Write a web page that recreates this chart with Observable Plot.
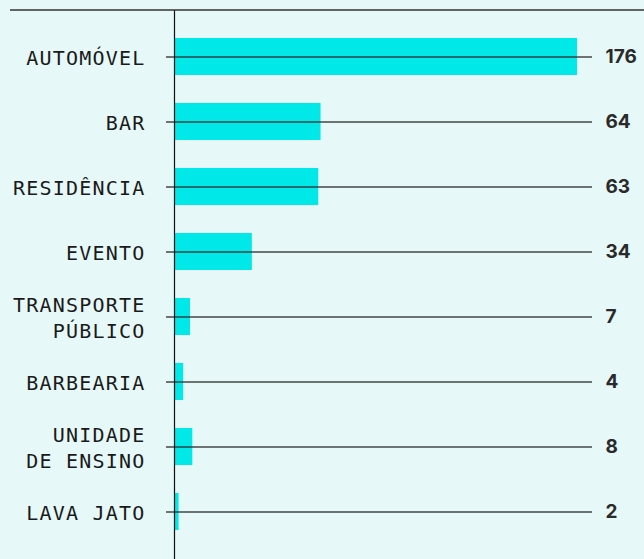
<!DOCTYPE html>
<html>
<head>
<meta charset="utf-8">
<script src="https://cdn.jsdelivr.net/npm/d3@7"></script>
<script src="https://cdn.jsdelivr.net/npm/@observablehq/plot@0.6"></script>
<style>
  html, body { margin: 0; padding: 0; background: #e6f8f8; }
  #chart svg { display: block; }
</style>
</head>
<body>
<div id="chart"></div>
<script>
const categories = ["AUTOMÓVEL", "BAR", "RESIDÊNCIA", "EVENTO", "TRANSPORTE\nPÚBLICO", "BARBEARIA", "UNIDADE\nDE ENSINO", "LAVA JATO"];
const values = [176, 64, 63, 34, 7, 4, 8, 2];

const data = categories.map((c, i) => ({cat: c, value: values[i]}));

const plot = Plot.plot({
  width: 644,
  height: 559,
  marginTop: 10,
  marginBottom: 0,
  marginLeft: 174,
  marginRight: 52,
  style: {background: "#e6f8f8", overflow: "visible"},
  x: {domain: [0, 176], range: [174, 577], axis: null},
  y: {domain: categories, range: [24.5, 544.5], paddingInner: 0.43, paddingOuter: 0.215, axis: null},
  marks: [
    Plot.barX(data, {y: "cat", x: "value", fill: "#00e8e8"}),
    Plot.ruleY(data, {y: "cat", stroke: "#333", strokeWidth: 1.6, strokeOpacity: 0.9, insetLeft: -8}),
    Plot.ruleX([0], {stroke: "#111", strokeWidth: 1.2}),
    Plot.text(data, {
      y: "cat", text: "cat", frameAnchor: "left", textAnchor: "end", dx: -29,
      fontFamily: "DejaVu Sans Mono", fontSize: 20, lineHeight: 1.3, fill: "#1a1a1a"
    }),
    Plot.text(data, {
      y: "cat", text: d => String(d.value), frameAnchor: "right", textAnchor: "start", dx: 13,
      fontFamily: "Inter", fontWeight: "bold", fontSize: 19, fill: "#2a2a2a"
    })
  ]
});

d3.select(plot).selectAll('g[font-family="DejaVu Sans Mono"]').attr("letter-spacing", "1.2px");

d3.select(plot).append("line")
  .attr("x1", 10).attr("x2", 644).attr("y1", 10).attr("y2", 10)
  .attr("stroke", "#333").attr("stroke-width", 1.6);

document.getElementById("chart").appendChild(plot);
</script>
</body>
</html>
